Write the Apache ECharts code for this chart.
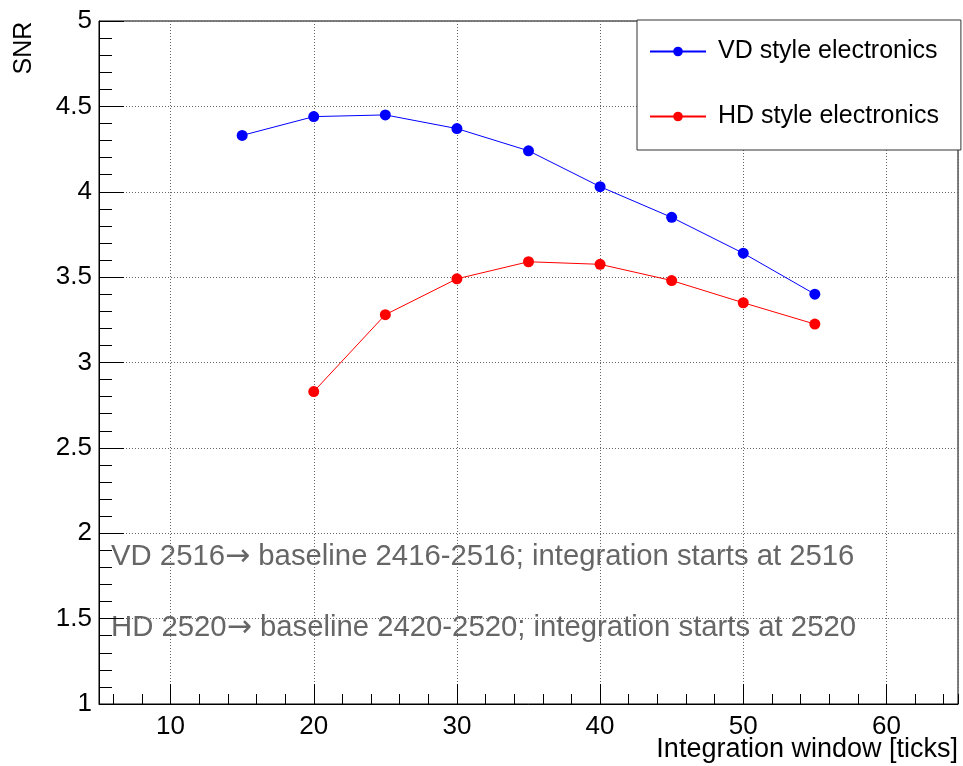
<!DOCTYPE html>
<html>
<head>
<meta charset="utf-8">
<script src="https://cdn.jsdelivr.net/npm/echarts@6/dist/echarts.min.js"></script>
<style>html,body{margin:0;padding:0;background:#fff}#c{width:963px;height:766px}</style>
</head>
<body>
<div id="c"></div>
<script>
// ---- data ----
const vdX = [15, 20, 25, 30, 35, 40, 45, 50, 55];
const vdSNR = [4.33, 4.44, 4.45, 4.37, 4.24, 4.03, 3.85, 3.64, 3.40];
const hdX = [20, 25, 30, 35, 40, 45, 50, 55];
const hdSNR = [2.83, 3.28, 3.49, 3.59, 3.575, 3.48, 3.35, 3.225];
const seriesNames = ['VD style electronics', 'HD style electronics'];
const notes = [
  ['VD 2516', ' baseline 2416-2516; integration starts at 2516'],
  ['HD 2520', ' baseline 2420-2520; integration starts at 2520']
];
const xTitle = 'Integration window [ticks]';
const yTitle = 'SNR';

const FONT = 'Liberation Sans, Arial, Helvetica, sans-serif';
const chart = echarts.init(document.getElementById('c'));
const pairs = (xs, ys) => xs.map((x, i) => [x, ys[i]]);

function noteText(n, y) {
  return {
    type: 'text', x: 111, y: y,
    style: {
      text: n[0] + '{a|\u2192}' + n[1],
      font: '29.3px ' + FONT, fill: '#666', textAlign: 'left', textVerticalAlign: 'middle',
      rich: { a: { fontFamily: 'DejaVu Sans', fontSize: 30, fill: '#666', color: '#666' } }
    }
  };
}

chart.setOption({
  animation: false,
  backgroundColor: '#fff',
  grid: { left: 99, right: 5, top: 21, bottom: 62, show: true, borderColor: '#000', borderWidth: 1, containLabel: false },
  legend: {
    orient: 'vertical', left: 637, top: 20,
    padding: [19, 22, 21, 12], itemGap: 40, itemWidth: 56, itemHeight: 12,
    backgroundColor: '#fff', borderColor: '#333', borderWidth: 1, borderRadius: 0,
    textStyle: { fontFamily: FONT, fontSize: 25, color: '#000', padding: [0, 0, 0, 7] },
    data: seriesNames
  },
  xAxis: [
    {
      type: 'value', min: 5, max: 65, splitNumber: 6, position: 'bottom',
      axisLine: { show: true, lineStyle: { color: '#000', width: 1 } },
      axisTick: { show: true, inside: true, length: 20, lineStyle: { color: '#000' } },
      axisLabel: { show: true, showMinLabel: false, showMaxLabel: false, margin: 10, fontFamily: FONT, fontSize: 26, color: '#000' },
      splitLine: { show: true, lineStyle: { color: '#666', type: [1, 2], width: 1 } }
    },
    {
      type: 'value', min: 5, max: 65, splitNumber: 30, position: 'bottom',
      axisLine: { show: false },
      axisTick: { show: true, inside: true, length: 10, lineStyle: { color: '#000' } },
      axisLabel: { show: false },
      splitLine: { show: false }
    }
  ],
  yAxis: {
    type: 'value', min: 1, max: 5, interval: 0.5,
    axisLine: { show: true, lineStyle: { color: '#000', width: 1 } },
    axisTick: { show: true, inside: true, length: 25, lineStyle: { color: '#000' } },
    minorTick: { show: true, splitNumber: 5, length: 13, lineStyle: { color: '#000' } },
    axisLabel: { margin: 7, fontFamily: FONT, fontSize: 26, color: '#000' },
    splitLine: { show: true, lineStyle: { color: '#666', type: [1, 2], width: 1 } }
  },
  series: [
    {
      name: seriesNames[0], type: 'line', xAxisIndex: 0, data: pairs(vdX, vdSNR),
      symbol: 'circle', symbolSize: 11, showAllSymbol: true,
      lineStyle: { color: '#0000ff', width: 1 }, itemStyle: { color: '#0000ff' }
    },
    {
      name: seriesNames[1], type: 'line', xAxisIndex: 0, data: pairs(hdX, hdSNR),
      symbol: 'circle', symbolSize: 11, showAllSymbol: true,
      lineStyle: { color: '#ff0000', width: 1 }, itemStyle: { color: '#ff0000' }
    }
  ],
  graphic: [
    { type: 'text', x: 24, y: 48, rotation: Math.PI / 2,
      style: { text: yTitle, font: '25px ' + FONT, fill: '#000', textAlign: 'center', textVerticalAlign: 'middle' } },
    { type: 'text', x: 958, y: 750,
      style: { text: xTitle, font: '27px ' + FONT, fill: '#000', textAlign: 'right', textVerticalAlign: 'middle' } },
    noteText(notes[0], 557),
    noteText(notes[1], 628)
  ]
});
</script>
</body>
</html>
